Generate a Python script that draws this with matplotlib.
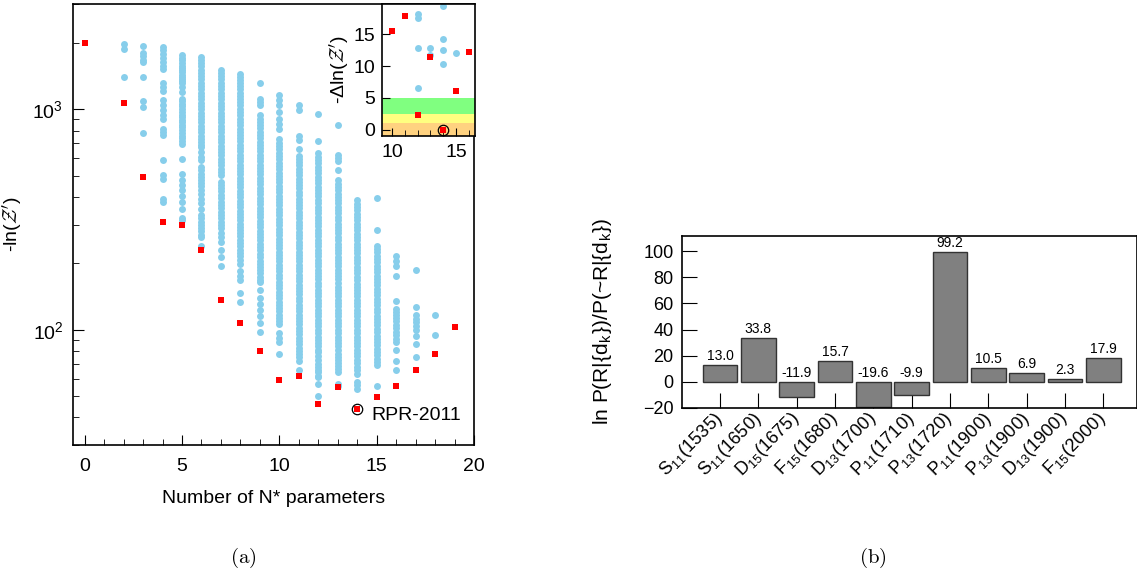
import numpy as np
import matplotlib
matplotlib.use("Agg")
import matplotlib.pyplot as plt
from matplotlib.ticker import NullFormatter, MultipleLocator

plt.rcParams['font.family'] = ['Liberation Sans', 'DejaVu Sans']
plt.rcParams['mathtext.fontset'] = 'cm'

# ---- panel (a): -ln(Z) vs number of N* parameters ----
# best model for each number of parameters (red squares)
red_n = [0, 2, 3, 4, 5, 6, 7, 8, 9, 10, 11, 12, 13, 14, 15, 16, 17, 18, 19]
red_lnz = [2000, 1070, 492, 307, 298, 229, 136, 107, 80, 59.1, 61.5, 45.9,
           55.0, 43.6, 49.7, 55.8, 65.5, 78, 102.5]
best_n = 14
best_lnz = 43.6

# all other models (blue dots), one list per number of parameters
col_02 = [1970, 1870, 1400]
col_03 = [1930, 1800, 1740, 1680, 1640, 1400, 1090, 1025, 780]
col_04 = [1920, 1850, 1780, 1710, 1640, 1570, 1515, 1320, 1260, 1210, 1099,
          1040, 990, 940, 900, 817, 790, 762, 587, 505, 483, 392, 380]
col_05 = [1760, 1715, 1670, 1615, 1575, 1540, 1505, 1470, 1435, 1400, 1370,
          1340, 1310, 1262, 1200, 1118, 1090, 1060, 1030, 1000, 972, 945, 920,
          895, 872, 850, 828, 805, 782, 760, 740, 720, 698, 597, 510, 480, 455,
          430, 405, 380, 353, 320, 315]
col_06 = [1720, 1670, 1620, 1565, 1510, 1460, 1410, 1365, 1320, 1275, 1230,
          1190, 1150, 1110, 1070, 1035, 1000, 966, 933, 902, 871, 842, 813, 786,
          759, 733, 708, 690, 673, 637, 610, 587, 547, 528, 510, 495, 480, 465,
          450, 432, 414, 392, 375, 353, 330, 320, 309, 298, 288, 279, 270, 263,
          240]
col_07 = [1503, 1455, 1410, 1365, 1320, 1275, 1230, 1190, 1150, 1110, 1070,
          1035, 1000, 966, 933, 902, 871, 842, 813, 786, 759, 733, 708, 684, 661,
          639, 617, 596, 575, 556, 537, 519, 501, 470, 455, 440, 425, 410, 395,
          380, 367, 355, 343, 331, 320, 309, 298, 288, 275, 263, 250, 230, 213,
          195]
col_08 = [1450, 1405, 1360, 1315, 1270, 1230, 1190, 1150, 1110, 1075, 1040,
          1005, 970, 937, 905, 875, 845, 817, 790, 764, 738, 714, 690, 667, 645,
          622, 600, 580, 560, 542, 525, 507, 490, 473, 457, 442, 427, 413, 399,
          385, 372, 360, 347, 336, 325, 314, 303, 293, 283, 274, 265, 256, 247,
          239, 231, 223, 215, 207, 199, 184, 176, 168, 147, 134]
col_09 = [1310, 1118, 1080, 1042, 939, 907, 877, 847, 818, 791, 764, 738, 713,
          689, 666, 644, 622, 601, 580, 561, 542, 524, 506, 489, 472, 456, 441,
          426, 411, 397, 384, 371, 358, 346, 335, 323, 312, 301, 291, 281, 272,
          263, 254, 245, 237, 229, 221, 213, 206, 199, 193, 186, 180, 174, 168,
          164, 152, 139, 131, 123, 116, 107, 98]
col_10 = [1158, 1100, 1040, 970, 907, 861, 812, 729, 704, 680, 657, 635, 614,
          593, 573, 553, 534, 516, 499, 482, 466, 450, 435, 420, 406, 392, 379,
          366, 353, 341, 330, 319, 308, 297, 287, 278, 268, 259, 250, 242, 234,
          226, 218, 211, 204, 197, 190, 184, 177, 171, 165, 160, 154, 149, 144,
          139, 134, 130, 125, 121, 117, 113, 109, 106, 97, 92, 87.6, 77.5]
col_11 = [1042, 990, 754, 723, 663, 616, 595, 575, 556, 537, 519, 501, 484,
          468, 452, 437, 422, 407, 393, 380, 367, 355, 343, 331, 320, 309, 298,
          288, 278, 269, 260, 251, 242, 234, 226, 219, 211, 204, 197, 191, 184,
          178, 172, 166, 160, 155, 150, 145, 140, 135, 130, 126, 121, 117, 113,
          110, 106, 102, 99, 95.5, 92, 89, 86, 83, 80, 77.6, 75, 72, 65.5]
col_12 = [956, 716, 630, 609, 588, 568, 549, 530, 512, 495, 478, 462, 446, 431,
          416, 402, 388, 375, 362, 350, 338, 326, 315, 304, 294, 284, 274, 265,
          256, 247, 239, 231, 223, 215, 208, 201, 194, 187, 181, 175, 169, 163,
          158, 152, 147, 142, 137, 132, 128, 123, 119, 115, 111, 107, 104, 100,
          97, 93, 90, 87, 84, 81, 79, 76, 73, 70, 68, 66, 64.5, 61.8, 61.2, 56.5,
          50.2]
col_13 = [846, 620, 600, 580, 528, 476, 460, 444, 429, 414, 400, 387, 374, 361,
          349, 337, 325, 314, 303, 293, 283, 274, 264, 255, 246, 238, 230, 222,
          214, 207, 200, 194, 187, 181, 175, 169, 163, 157, 152, 147, 142, 137,
          132, 128, 123, 119, 115, 111, 107, 104, 100, 97, 93, 90, 87, 84, 81,
          78, 75.5, 73, 70.5, 68.5, 66.5, 64.5, 56.5, 55.3]
col_14 = [386, 373, 360, 348, 336, 325, 314, 303, 293, 283, 273, 264, 255, 246,
          238, 230, 222, 214, 207, 200, 193, 186, 180, 174, 168, 162, 157, 152,
          147, 142, 137, 132, 128, 123, 119, 115, 111, 107, 104, 100, 97, 93, 90,
          87, 84, 81, 78.5, 76, 73, 70.5, 68, 66, 63.1, 57.9, 56.1, 54.0]
col_15 = [397, 282, 240, 232, 224, 216, 209, 202, 195, 188, 182, 176, 170, 164,
          159, 153, 148, 143, 138, 133, 129, 124, 120, 116, 112, 108, 105, 101,
          98, 94, 91, 88, 85, 82, 79, 76.5, 74, 71.5, 69, 55.7]
col_16 = [217, 205, 195, 175, 135, 124, 120, 117, 113, 109, 105, 102, 98, 95,
          91, 88, 81, 72, 65.5]
col_17 = [187, 127, 117, 112, 108, 104, 100, 94, 86, 75.5]
col_18 = [117, 95]

blue_cols = {2: col_02, 3: col_03, 4: col_04, 5: col_05, 6: col_06, 7: col_07,
             8: col_08, 9: col_09, 10: col_10, 11: col_11, 12: col_12,
             13: col_13, 14: col_14, 15: col_15, 16: col_16, 17: col_17,
             18: col_18}

# ---- panel (b): log odds per resonance ----
res_labels = [r'S$_{\mathdefault{11}}$(1535)', r'S$_{\mathdefault{11}}$(1650)',
              r'D$_{\mathdefault{15}}$(1675)', r'F$_{\mathdefault{15}}$(1680)',
              r'D$_{\mathdefault{13}}$(1700)', r'P$_{\mathdefault{11}}$(1710)',
              r'P$_{\mathdefault{13}}$(1720)', r'P$_{\mathdefault{11}}$(1900)',
              r'P$_{\mathdefault{13}}$(1900)', r'D$_{\mathdefault{13}}$(1900)',
              r'F$_{\mathdefault{15}}$(2000)']
res_vals = [13.0, 33.8, -11.9, 15.7, -19.6, -9.9, 99.2, 10.5, 6.9, 2.3, 17.9]

blue = '#87ceeb'
red = '#ff0000'

blue_n = []
blue_lnz = []
for n, vals in blue_cols.items():
    blue_n += [n] * len(vals)
    blue_lnz += vals
blue_n = np.array(blue_n)
blue_lnz = np.array(blue_lnz)

fig = plt.figure(figsize=(11.37, 5.74), dpi=100)

ax = fig.add_axes([0.0642, 0.2247, 0.3527, 0.7683])
ax.plot(blue_n, blue_lnz, 'o', color=blue, ms=5.0, mew=0, zorder=2)
ax.plot(red_n, red_lnz, 's', color=red, ms=4.4, mew=0, zorder=3)
ax.plot([best_n], [best_lnz], 'o', mfc='none', mec='black', ms=7.5, mew=0.9, zorder=4)
ax.text(14.75, best_lnz * 0.94, 'RPR-2011', fontsize=14, va='center', ha='left')
ax.set_yscale('log')
ax.set_ylim(30, 3000)
ax.set_xlim(-0.6, 20)
ax.xaxis.set_major_locator(MultipleLocator(5))
ax.xaxis.set_minor_locator(MultipleLocator(1))
ax.yaxis.set_minor_formatter(NullFormatter())
ax.tick_params(which='both', direction='in', labelsize=14)
ax.tick_params(axis='x', which='major', length=7.5, pad=9)
ax.tick_params(axis='x', which='minor', length=4.5)
ax.tick_params(axis='y', which='major', length=8, pad=7)
ax.tick_params(axis='y', which='minor', length=4)
ax.set_xlabel('Number of N* parameters', fontsize=14, labelpad=11)
ax.set_ylabel(r"-ln($\mathcal{Z}'$)", fontsize=14, labelpad=6)
for s in ax.spines.values():
    s.set_linewidth(1.2)

# inset: difference to the best model
ins = fig.add_axes([0.336, 0.763, 0.0818, 0.230])
ins.axhspan(-1, 1, color='#ffd280', lw=0, zorder=0)
ins.axhspan(1, 2.5, color='#ffff80', lw=0, zorder=0)
ins.axhspan(2.5, 5, color='#80ff80', lw=0, zorder=0)
ins.plot(blue_n, blue_lnz - best_lnz, 'o', color=blue, ms=5.0, mew=0, zorder=2)
ins.plot(red_n, np.array(red_lnz) - best_lnz, 's', color=red, ms=4.4, mew=0, zorder=3)
ins.plot([best_n], [0], 'o', mfc='none', mec='black', ms=7.5, mew=0.9, zorder=4)
ins.set_xlim(9.2, 16.5)
ins.set_ylim(-1, 19.8)
ins.xaxis.set_major_locator(MultipleLocator(5))
ins.xaxis.set_minor_locator(MultipleLocator(1))
ins.yaxis.set_major_locator(MultipleLocator(5))
ins.tick_params(which='both', direction='in', labelsize=14)
ins.tick_params(axis='x', which='major', length=6, pad=6)
ins.tick_params(axis='x', which='minor', length=4)
ins.tick_params(axis='y', which='major', length=6, pad=5)
ins.set_ylabel(r"-Δln($\mathcal{Z}'$)", fontsize=14, labelpad=2)
for s in ins.spines.values():
    s.set_linewidth(1.2)

# ---- panel (b) ----
bx = fig.add_axes([0.5996, 0.2897, 0.4004, 0.2997])
pos = np.arange(len(res_vals))
bx.bar(pos, res_vals, width=0.9, color='#808080', edgecolor='#333333', linewidth=1, zorder=2)
for p, v in zip(pos, res_vals):
    bx.annotate(f'{v:.1f}', (p, max(v, 0)), xytext=(0, 1.5), textcoords='offset points',
                ha='center', va='bottom', fontsize=10)
bx.set_xlim(-1.0, 10.88)
bx.set_ylim(-20, 112)
bx.set_yticks([-20, 0, 20, 40, 60, 80, 100])
bx.set_xticks(pos)
bx.set_xticklabels(res_labels, rotation=45, ha='right', va='center',
                   rotation_mode='anchor', fontsize=13)
bx.tick_params(direction='in', length=11, labelsize=13)
bx.tick_params(axis='x', pad=6)
bx.tick_params(axis='y', pad=6)
bx.set_ylabel(r'ln P(R|{d$_{\mathdefault{k}}$})/P(~R|{d$_{\mathdefault{k}}$})', fontsize=15,
              labelpad=21)
for s in bx.spines.values():
    s.set_linewidth(1.2)

fig.text(243 / 1137, 1 - 558 / 574, r'$\mathrm{(a)}$', ha='center', va='center', fontsize=15)
fig.text(873 / 1137, 1 - 558 / 574, r'$\mathrm{(b)}$', ha='center', va='center', fontsize=15)

fig.savefig('out.png', dpi=100)
